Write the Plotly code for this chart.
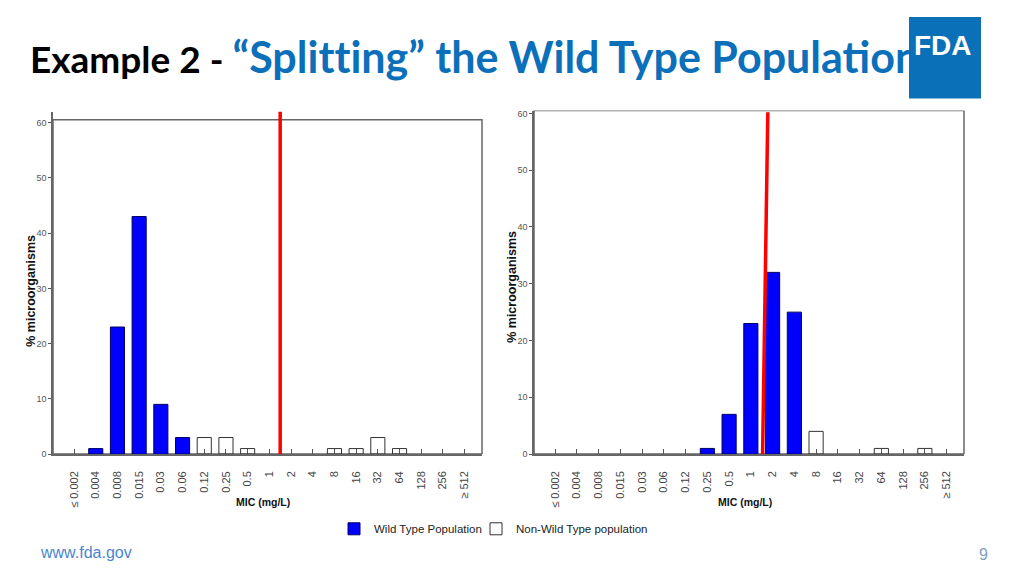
import plotly.graph_objects as go

# ---------------- data ----------------
mic_labels = ["≤ 0.002", "0.004", "0.008", "0.015", "0.03", "0.06", "0.12", "0.25", "0.5",
              "1", "2", "4", "8", "16", "32", "64", "128", "256", "≥ 512"]

left_wild = [None, 1, 23, 43, 9, 3, None, None, None, None, None, None, None, None, None, None, None, None, None]
left_nonwild = [None, None, None, None, None, None, 3, 3, 1, None, None, None, 1, 1, 3, 1, None, None, None]

right_wild = [None, None, None, None, None, None, None, 1, 7, 23, 32, 25, None, None, None, None, None, None, None]
right_nonwild = [None, None, None, None, None, None, None, None, None, None, None, None, 4, None, None, 1, None, 1, None]

# breakpoint ("split") lines, in category-index units
left_cut_x = [9.5, 9.5]
left_cut_y = [0, 62]
right_cut_x = [9.54, 9.78]
right_cut_y = [0, 60.2]

y_ticks = [0, 10, 20, 30, 40, 50, 60]

# ---------------- styling ----------------
SANS = "Liberation Sans, Arial"
BLUE = "#0000FF"
BAR_EDGE = "#000066"
TICK_COL = "#555555"
AXIS_COL = "#666666"
W, H = 1024, 576
YCORR = 1 / 0.992  # small vertical compensation for the page rendering


def px(x):
    return x / W


def py(y):
    return 1 - (y * YCORR) / H


xs = list(range(len(mic_labels)))

fig = go.Figure()


def add_panel(wild, nonwild, cut_x, cut_y, xa, ya, show_legend):
    fig.add_trace(go.Bar(x=xs, y=wild, width=0.65, name="Wild Type Population",
                         marker=dict(color=BLUE, line=dict(color=BAR_EDGE, width=1)),
                         xaxis=xa, yaxis=ya, showlegend=show_legend, legend="legend"))
    fig.add_trace(go.Bar(x=xs, y=nonwild, width=0.65, name="Non-Wild Type population",
                         marker=dict(color="rgba(255,255,255,0)", line=dict(color="#333333", width=1)),
                         xaxis=xa, yaxis=ya, showlegend=show_legend, legend="legend2"))
    fig.add_trace(go.Scatter(x=cut_x, y=cut_y, mode="lines",
                             line=dict(color="#FF0000", width=3.5),
                             xaxis=xa, yaxis=ya, showlegend=False, hoverinfo="skip"))


add_panel(left_wild, left_nonwild, left_cut_x, left_cut_y, "x", "y", True)
add_panel(right_wild, right_nonwild, right_cut_x, right_cut_y, "x2", "y2", False)

xcommon = dict(range=[-0.97, 18.8], tickmode="array", tickvals=xs, ticktext=mic_labels,
               tickangle=-90, ticks="inside", ticklen=5, tickcolor=TICK_COL, tickwidth=1,
               tickfont=dict(family=SANS, size=11, color="#444444"),
               ticklabelstandoff=11, showline=True, linecolor=AXIS_COL, linewidth=1.5,
               showgrid=False, zeroline=False, layer="below traces", fixedrange=True)
ycommon = dict(tickmode="array", tickvals=y_ticks, ticks="outside", ticklen=3,
               tickcolor=TICK_COL, tickfont=dict(family=SANS, size=9, color="#555555"),
               showline=True, linecolor=AXIS_COL, linewidth=1.5, showgrid=False,
               zeroline=False, layer="below traces", fixedrange=True)

legend_common = dict(orientation="h", xanchor="left", yanchor="middle",
                     font=dict(family=SANS, size=11.5, color="#222222"),
                     bgcolor="rgba(0,0,0,0)", itemwidth=30)

fig.update_layout(
    width=W, height=H,
    margin=dict(l=0, r=0, t=0, b=0),
    paper_bgcolor="white", plot_bgcolor="white",
    barmode="overlay",
    xaxis=dict(domain=[px(53), px(482)], anchor="y", **xcommon),
    yaxis=dict(domain=[py(454), py(110)], range=[0, 62], anchor="x", **ycommon),
    xaxis2=dict(domain=[px(534), px(964)], anchor="y2", **xcommon),
    yaxis2=dict(domain=[py(454), py(109)], range=[0, 60.5], anchor="x2", **ycommon),
    legend=dict(x=px(334), y=py(529), **legend_common),
    legend2=dict(x=px(476), y=py(529), **legend_common),
    showlegend=True,
)

# frames (top/right border of each plot box)
fig.add_shape(type="rect", xref="x domain", yref="y", x0=0, x1=1, y0=0, y1=60.5,
              line=dict(color=AXIS_COL, width=1.5), layer="below")
fig.add_shape(type="rect", xref="x2 domain", yref="y2", x0=0, x1=1, y0=0, y1=60.5,
              line=dict(color=AXIS_COL, width=1.5), layer="below")

# axis titles
for xc, yc in [(263, 502), (745, 502)]:
    fig.add_annotation(x=px(xc), y=py(yc), xref="paper", yref="paper", text="<b>MIC (mg/L)</b>",
                       xanchor="center", yanchor="middle", showarrow=False,
                       font=dict(family=SANS, size=10.5, color="#111111"))
for xc, yc in [(31, 290), (512, 286)]:
    fig.add_annotation(x=px(xc), y=py(yc), xref="paper", yref="paper", text="<b>% microorganisms</b>",
                       xanchor="center", yanchor="middle", showarrow=False, textangle=-90,
                       font=dict(family=SANS, size=12.5, color="#111111"))

# slide title (zero-width non-joiners stop Lato's "tt"/"ti" ligatures)
ZW = "\u200c"
title_blue = "“Split" + ZW + "t" + ZW + "ing” the Wild Type Population"
fig.add_annotation(x=px(28), y=py(82), xref="paper", yref="paper", xanchor="left",
                   yanchor="bottom", showarrow=False,
                   text=("<b>Example 2 - </b><b><span style='color:#0B6FBA;font-size:43px'>"
                         + title_blue + "</span></b>"),
                   font=dict(family="Lato, Open Sans, sans-serif", size=37, color="#000000"))

# FDA logo
fig.add_shape(type="rect", xref="paper", yref="paper", x0=px(909), x1=px(981),
              y0=py(97), y1=py(15), fillcolor="#0A70B8", line=dict(width=0), layer="above")
fig.add_annotation(x=px(943), y=py(44), xref="paper", yref="paper", text="<b>FDA</b>",
                   xanchor="center", yanchor="middle", showarrow=False,
                   font=dict(family=SANS, size=28, color="white"))

# footer
fig.add_annotation(x=px(38), y=py(553), xref="paper", yref="paper", xanchor="left",
                   yanchor="middle", text="www.fda.gov", showarrow=False,
                   font=dict(family=SANS, size=16, color="#4A86D0"))
fig.add_annotation(x=px(990), y=py(555), xref="paper", yref="paper", xanchor="right",
                   yanchor="middle", text="9", showarrow=False,
                   font=dict(family=SANS, size=16, color="#7F9FC0"))

fig.write_html("out.html", config={"displayModeBar": False},
               post_script="document.body.style.margin='0';document.body.style.overflow='hidden';")
